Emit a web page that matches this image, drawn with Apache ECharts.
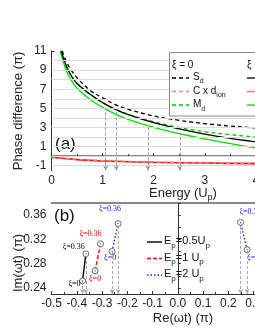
<!DOCTYPE html>
<html><head><meta charset="utf-8">
<script src="https://cdn.jsdelivr.net/npm/echarts@6/dist/echarts.min.js"></script>
<style>html,body{margin:0;padding:0;background:#fff}#c{width:255px;height:330px}</style>
</head><body><div id="c"></div>
<script>
// ---------- Panel (a): phase difference vs energy ----------
const sdXi0E   = [0.21,0.3,0.4,0.5,0.75,1.0,1.25,1.5,2.0,2.5,3.0,3.5,4.0,4.5,5.0];
const sdXi0    = [11,9.8,8.9,8.2,6.9,6.1,5.4,4.9,4.2,3.75,3.4,3.15,2.95,2.8,2.65];
const sdXi36E  = [0.19,0.3,0.4,0.5,0.75,1.0,1.25,1.5,2.0,2.5,3.0,3.5,4.0,4.5,5.0];
const sdXi36   = [11,9.3,8.3,7.6,6.5,5.6,4.9,4.35,3.5,2.85,2.3,1.85,1.5,1.2,0.95];
const mdXi0E   = [0.19,0.3,0.4,0.5,0.75,1.0,1.25,1.5,2.0,2.5,3.0,3.5,4.0,4.5,5.0];
const mdXi0    = [11,9.3,8.3,7.6,6.5,5.6,4.9,4.38,3.6,3.0,2.55,2.25,2.0,1.8,1.6];
const mdXi36E  = [0.17,0.3,0.4,0.5,0.75,1.0,1.25,1.5,2.0,2.5,3.0,3.5,4.0,4.5,5.0];
const mdXi36   = [11,8.8,7.85,7.1,5.95,5.1,4.4,3.85,3.0,2.35,1.8,1.3,0.85,0.45,0.1];
const ionE     = [0,0.25,0.5,1.0,1.5,2.0,3.0,4.0,5.0];
const cdIonXi36= [-0.1,-0.25,-0.36,-0.5,-0.58,-0.64,-0.72,-0.78,-0.82];
const cdIonXi0 = [-0.05,-0.22,-0.33,-0.47,-0.55,-0.62,-0.7,-0.76,-0.8];
const guideE   = [1.06,1.27,1.89,2.51];
const guideTop = [5.05,4.87,3.13,2.43];
const yTicksA  = [-1,1,3,5,7,9,11];
const yMinorA  = [-1,0,1,2,3,4,5,6,7,8,9,10,11];
const yGridA   = [-1,0,1,2,3,4,5,6,7,8,9,10];

// ---------- Panel (b): complex saddle-point times ----------
const reBlack = [-0.377,-0.364];  const imBlack = [0.2516,0.2963];
const reRed   = [-0.3274,-0.306]; const imRed   = [0.2681,0.3128];
const reBlueL = [-0.260,-0.2363]; const imBlueL = [0.3001,0.346];
const reBlueR = [0.2744,0.2482];  const imBlueR = [0.303,0.348];
const xiLabels = ['ξ=0','ξ=0.36'];
const yTicksB  = [0.24,0.28,0.32,0.36];
const yMinorB  = [0.24,0.26,0.28,0.30,0.32,0.34,0.36,0.38];

const F = 'Liberation Sans';
const pairs = (xs, ys) => xs.map((x,i)=>[x,ys[i]]);
const chart = echarts.init(document.getElementById('c'));

const axisBase = {
  axisLine:{lineStyle:{color:'#333',width:1}},
  axisTick:{inside:true,length:3,lineStyle:{color:'#333'}},
  axisLabel:{fontSize:12,color:'#222',fontFamily:F,margin:4,hideOverlap:false},
  splitLine:{show:false}
};
const topBorder = (g,min,max)=>({gridIndex:g,type:'value',min,max,position:'top',
  axisLine:{lineStyle:{color:'#888',width:2}},axisTick:{show:false},axisLabel:{show:false},splitLine:{show:false}});

const lineS = (data,color,type,width,z)=>({type:'line',xAxisIndex:0,yAxisIndex:0,data,smooth:0.4,
  showSymbol:false,symbol:'none',lineStyle:{color,type,width},z:z||3,silent:true});

function ptLabel(text,color,align,offset){
  return {show:true,formatter:text,position:'inside',align,verticalAlign:'middle',offset,color,
    fontSize:8,fontFamily:'Liberation Serif'};
}
function bSeries(re,im,color,type,labs){
  return {type:'line',xAxisIndex:2,yAxisIndex:2,smooth:false,symbol:'circle',symbolSize:6,
    itemStyle:{color:'#fff',borderColor:'#666',borderWidth:1},
    lineStyle:{color,type,width:1.4},z:4,silent:true,
    data:pairs(re,im).map((v,i)=>({value:v,label:labs[i]}))};
}
const guideLines = (pts,ymin)=>pts.map(p=>[{coord:[p[0],ymin]},{coord:[p[0],p[1]]}]);
const allB = pairs(reBlack,imBlack).concat(pairs(reRed,imRed),pairs(reBlueL,imBlueL),pairs(reBlueR,imBlueR));

const option = {
  animation:false,
  grid:[{left:51.5,top:51,width:255.5,height:119.5,outerBoundsMode:'none',containLabel:false},
        {left:51.5,top:203,width:252.6,height:91,outerBoundsMode:'none',containLabel:false}],
  xAxis:[
    Object.assign({gridIndex:0,type:'value',min:0,max:5,interval:1,minorTick:{show:true,splitNumber:2,length:2,lineStyle:{color:'#333'}}},axisBase),
    topBorder(0,0,5),
    Object.assign({gridIndex:1,type:'value',min:-0.5,max:0.5,interval:0.1,minorTick:{show:true,splitNumber:2,length:2,lineStyle:{color:'#333'}}},axisBase,
      {axisLabel:Object.assign({},axisBase.axisLabel,{formatter:v=>(Math.abs(v)<1e-9?0:v).toFixed(1)})}),
    topBorder(1,-0.5,0.5)
  ],
  yAxis:[
    Object.assign({gridIndex:0,type:'value',min:-1.5,max:11},axisBase,{
      axisTick:{inside:true,length:3,lineStyle:{color:'#333'},customValues:yMinorA},
      axisLabel:Object.assign({},axisBase.axisLabel,{customValues:yTicksA,margin:5})}),
    {gridIndex:0,type:'value',min:-1.5,max:11,position:'right',show:false},
    Object.assign({gridIndex:1,type:'value',min:0.23,max:0.38},axisBase,{
      axisTick:{inside:true,length:3,lineStyle:{color:'#333'},customValues:yMinorB},
      axisLabel:Object.assign({},axisBase.axisLabel,{customValues:yTicksB,margin:5,formatter:v=>v.toFixed(2)})})
  ],
  series:[
    {type:'line',xAxisIndex:0,yAxisIndex:0,data:[],z:1,silent:true,
      markLine:{silent:true,symbol:'none',label:{show:false},lineStyle:{color:'#dcdcdc',type:'solid',width:1},
        data:yGridA.map(v=>({yAxis:v}))}},
    {type:'line',xAxisIndex:0,yAxisIndex:0,data:[],z:2,silent:true,
      markLine:{silent:true,symbol:['arrow','none'],symbolSize:[4,5],label:{show:false},
        lineStyle:{color:'#999',type:[3,2],width:1},
        itemStyle:{color:'#999'},
        data:guideLines(pairs(guideE,guideTop),-1.5)}},
    lineS(pairs(mdXi0E,mdXi0),'#00c800',[4,3],1.3),
    lineS(pairs(mdXi36E,mdXi36),'#00e000','solid',1.3),
    lineS(pairs(sdXi36E,sdXi36),'#000','solid',1.3),
    lineS(pairs(sdXi0E,sdXi0),'#000',[4,3],1.3),
    lineS(pairs(ionE,cdIonXi36),'#ff0000','solid',1.6),
    lineS(pairs(ionE,cdIonXi0),'#ff8080',[4,3],1.6),
    // panel b guide lines
    {type:'line',xAxisIndex:2,yAxisIndex:2,data:[],z:2,silent:true,
      markLine:{silent:true,symbol:['arrow','none'],symbolSize:[4,5],label:{show:false},
        lineStyle:{color:'#aaa',type:[3,2],width:1},
        data:guideLines(pairs(reBlack,imBlack).concat(pairs(reBlueL,imBlueL),pairs(reBlueR,imBlueR)),0.23)}},
    bSeries(reBlack,imBlack,'#000','solid',[
      ptLabel(xiLabels[0],'#000','right',[-2,3]),
      ptLabel(xiLabels[1],'#000','right',[-1,-7])]),
    bSeries(reRed,imRed,'#ff0000',[4,2],[
      ptLabel(xiLabels[0],'#ff0000','center',[0,8]),
      ptLabel(xiLabels[1],'#ff0000','right',[1,-10])]),
    bSeries(reBlueL,imBlueL,'#2020ff',[1.5,2],[
      ptLabel(xiLabels[0],'#2020ff','center',[-2,6]),
      ptLabel(xiLabels[1],'#2020ff','right',[3,-15])]),
    bSeries(reBlueR,imBlueR,'#2020ff',[1.5,2],[
      ptLabel(xiLabels[0],'#2020ff','left',[0,8]),
      ptLabel(xiLabels[1],'#2020ff','left',[-1,-11])]),
    // centre dots of the ring markers
    {type:'scatter',xAxisIndex:2,yAxisIndex:2,data:allB,symbol:'circle',symbolSize:1.6,
      itemStyle:{color:'#666'},z:5,silent:true}
  ],
  graphic:[
    {type:'text',x:18,y:111,rotation:Math.PI/2,style:{text:'Phase difference (π)',fontSize:13,fontFamily:F,fill:'#222',align:'center',verticalAlign:'middle'}},
    {type:'text',x:183,y:193,style:{text:'{n|Energy (U}{s|p}{n|)}',align:'center',verticalAlign:'middle',fill:'#222',
      rich:{n:{fontSize:13,fontFamily:F,lineHeight:13,verticalAlign:'top'},s:{fontSize:9,fontFamily:F,lineHeight:9,padding:[7,0,0,0],verticalAlign:'top'}}}},
    {type:'text',x:18,y:263,rotation:Math.PI/2,style:{text:'Im(ωt) (π)',fontSize:13,fontFamily:F,fill:'#222',align:'center',verticalAlign:'middle'}},
    {type:'text',x:183,y:318,style:{text:'Re(ωt) (π)',fontSize:13,fontFamily:F,fill:'#222',align:'center',verticalAlign:'middle'}},
    {type:'text',x:55,y:144,style:{text:'(a)',fontSize:17,fontFamily:F,fill:'#111',align:'left',verticalAlign:'middle'}},
    {type:'text',x:54,y:216,style:{text:'(b)',fontSize:17,fontFamily:F,fill:'#111',align:'left',verticalAlign:'middle'}},
    // legend (a)
    {type:'rect',shape:{x:169.5,y:52.5,width:120,height:63.5},style:{fill:'#fff',stroke:'#888',lineWidth:1},z:10},
    {type:'text',x:172,y:65,z:11,style:{text:'ξ = 0',fontSize:10,fontFamily:F,fill:'#111',align:'left',verticalAlign:'middle'}},
    {type:'text',x:247,y:65,z:11,style:{text:'ξ = 0.36',fontSize:10,fontFamily:F,fill:'#111',align:'left',verticalAlign:'middle'}},
    {type:'line',z:11,shape:{x1:172,y1:78,x2:189,y2:78},style:{stroke:'#000',lineWidth:1.3,lineDash:[4,3]}},
    {type:'line',z:11,shape:{x1:172,y1:91.5,x2:189,y2:91.5},style:{stroke:'#ff8080',lineWidth:1.6,lineDash:[4,3]}},
    {type:'line',z:11,shape:{x1:172,y1:105,x2:189,y2:105},style:{stroke:'#00c800',lineWidth:1.3,lineDash:[4,3]}},
    {type:'line',z:11,shape:{x1:247,y1:78,x2:264,y2:78},style:{stroke:'#000',lineWidth:1.3}},
    {type:'line',z:11,shape:{x1:247,y1:91.5,x2:264,y2:91.5},style:{stroke:'#f08080',lineWidth:1.6}},
    {type:'line',z:11,shape:{x1:247,y1:105,x2:264,y2:105},style:{stroke:'#00e000',lineWidth:1.3}},
    ...[['{n|S}{s|d}',77],['{n|C x d}{s|ion}',91],['{n|M}{s|d}',104.5]].map(t=>({type:'text',x:193,y:t[1],z:11,
      style:{text:t[0],align:'left',verticalAlign:'middle',fill:'#111',
        rich:{n:{fontSize:10,fontFamily:F,lineHeight:10,verticalAlign:'top'},s:{fontSize:7,fontFamily:F,lineHeight:7,padding:[6,0,0,0],verticalAlign:'top'}}}})),
    // legend (b)
    {type:'line',z:11,shape:{x1:147,y1:242,x2:162,y2:242},style:{stroke:'#000',lineWidth:1.4}},
    {type:'line',z:11,shape:{x1:147,y1:258.5,x2:162,y2:258.5},style:{stroke:'#ff0000',lineWidth:1.4,lineDash:[4,2]}},
    {type:'line',z:11,shape:{x1:147,y1:275,x2:162,y2:275},style:{stroke:'#2020ff',lineWidth:1.4,lineDash:[1.5,2]}},
    ...[['{n|E}{s|p}{n|=0.5U}{s|p}',241],['{n|E}{s|p}{n|=1 U}{s|p}',257.5],['{n|E}{s|p}{n|=2 U}{s|p}',274]].map(t=>({type:'text',x:164,y:t[1],z:11,
      style:{text:t[0],align:'left',verticalAlign:'middle',fill:'#111',
        rich:{n:{fontSize:11,fontFamily:F,lineHeight:11,verticalAlign:'top'},s:{fontSize:8,fontFamily:F,lineHeight:8,padding:[6,0,0,0],verticalAlign:'top'}}}}))
  ]
};
chart.setOption(option);
</script></body></html>
